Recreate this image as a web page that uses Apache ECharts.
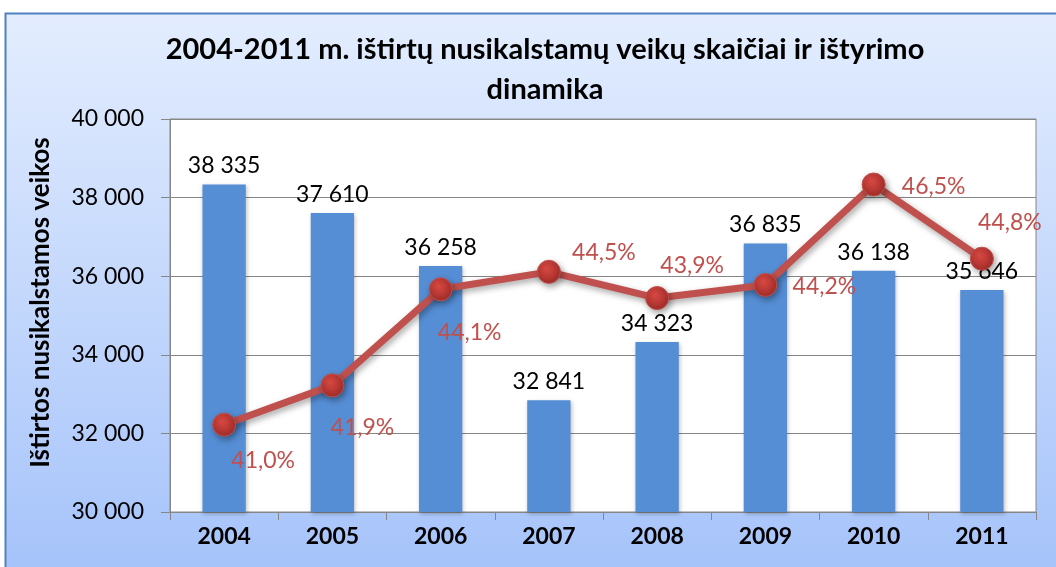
<!DOCTYPE html>
<html>
<head>
<meta charset="utf-8">
<script src="https://cdn.jsdelivr.net/npm/echarts@6/dist/echarts.min.js"></script>
<style>
  html, body { margin: 0; padding: 0; background: #fff; }
  #chart { width: 1056px; height: 567px; }
</style>
</head>
<body>
<div id="chart"></div>
<script>
const years = ['2004', '2005', '2006', '2007', '2008', '2009', '2010', '2011']
const solvedCrimes = [38335, 37610, 36258, 32841, 34323, 36835, 36138, 35646]
const solvedRate = [41.0, 41.9, 44.1, 44.5, 43.9, 44.2, 46.5, 44.8]
const yTicks = [30000, 32000, 34000, 36000, 38000, 40000]

// label offsets for the percentage labels (dx, dy from the point)
const rateLabelOffsets = [[39, 36], [30, 42], [29, 43], [55, -19], [35, -32], [59, 2], [60, 2], [28, -36]]

const fontFamily = 'Lato, "Noto Sans", sans-serif'
const lineColor = '#c0504d'
const barColor = '#558ed5'

const fmtNumber = v => String(v).replace(/\B(?=(\d{3})+(?!\d))/g, ' ')
const fmtRate = v => v.toFixed(1).replace('.', ',') + '%'

const chart = echarts.init(document.getElementById('chart'))

const option = {
  animation: false,
  textStyle: { fontFamily },
  graphic: [{
    type: 'rect',
    z: -10,
    shape: { x: 5.5, y: 13.5, width: 1060, height: 570 },
    style: {
      fill: new echarts.graphic.LinearGradient(0, 0, 0, 1, [
        { offset: 0, color: '#e3edfe' },
        { offset: 1, color: '#a4c2fa' }
      ]),
      stroke: '#4f81bd',
      lineWidth: 2
    }
  }],
  title: {
    text: '2004-2011 m. ištirtų nusikalstamų veikų skaičiai ir ištyrimo\ndinamika',
    left: 540,
    textAlign: 'center',
    top: 25,
    textStyle: {
      fontFamily,
      fontSize: 29,
      fontWeight: 'bold',
      color: '#000',
      lineHeight: 40
    }
  },
  grid: {
    left: 170,
    top: 119,
    right: 20,
    bottom: 55,
    show: true,
    backgroundColor: '#fff',
    borderColor: '#868686',
    borderWidth: 1
  },
  xAxis: {
    type: 'category',
    data: years,
    axisLine: { lineStyle: { color: '#868686' } },
    axisTick: { show: true, length: 8, lineStyle: { color: '#868686' } },
    axisLabel: {
      color: '#000',
      fontSize: 23,
      fontWeight: 'bold',
      margin: 13,
      fontFamily
    }
  },
  yAxis: [{
    type: 'value',
    min: yTicks[0],
    max: yTicks[yTicks.length - 1],
    interval: 2000,
    name: 'Ištirtos nusikalstamos veikos',
    nameLocation: 'middle',
    nameGap: 116,
    nameTextStyle: {
      color: '#000',
      fontSize: 26,
      fontWeight: 'bold',
      fontFamily,
      padding: [0, 0, 0, 26]
    },
    axisLine: { show: true, lineStyle: { color: '#868686' } },
    axisTick: { show: true, length: 9, lineStyle: { color: '#868686' } },
    splitLine: { lineStyle: { color: '#868686', width: 1 } },
    axisLabel: {
      color: '#000',
      fontSize: 23,
      margin: 26,
      fontFamily,
      formatter: v => fmtNumber(v)
    }
  }, {
    type: 'value',
    min: 39,
    max: 48,
    show: false,
    splitLine: { show: false }
  }],
  series: [{
    type: 'bar',
    data: solvedCrimes,
    barWidth: '40%',
    itemStyle: {
      color: barColor,
      shadowColor: 'rgba(0,0,0,0.25)',
      shadowBlur: 4,
      shadowOffsetX: 1,
      shadowOffsetY: 2
    },
    label: {
      show: true,
      position: 'top',
      distance: 7,
      color: '#000',
      fontSize: 23,
      fontFamily,
      formatter: p => fmtNumber(p.value)
    }
  }, {
    type: 'line',
    yAxisIndex: 1,
    data: solvedRate.map((v, i) => ({
      value: v,
      label: { offset: rateLabelOffsets[i] }
    })),
    symbol: 'circle',
    symbolSize: 23,
    lineStyle: {
      color: lineColor,
      width: 7,
      shadowColor: 'rgba(0,0,0,0.35)',
      shadowBlur: 6,
      shadowOffsetX: 2,
      shadowOffsetY: 3
    },
    itemStyle: {
      color: new echarts.graphic.RadialGradient(0.4, 0.35, 0.7, [
        { offset: 0, color: '#dd4a44' },
        { offset: 1, color: '#9c2a27' }
      ]),
      borderColor: '#c0504d',
      borderWidth: 1,
      shadowColor: 'rgba(0,0,0,0.35)',
      shadowBlur: 6,
      shadowOffsetX: 2,
      shadowOffsetY: 3
    },
    label: {
      show: true,
      position: 'inside',
      color: lineColor,
      fontSize: 23,
      fontFamily,
      formatter: p => fmtRate(p.value)
    }
  }]
}

chart.setOption(option)
</script>
</body>
</html>
